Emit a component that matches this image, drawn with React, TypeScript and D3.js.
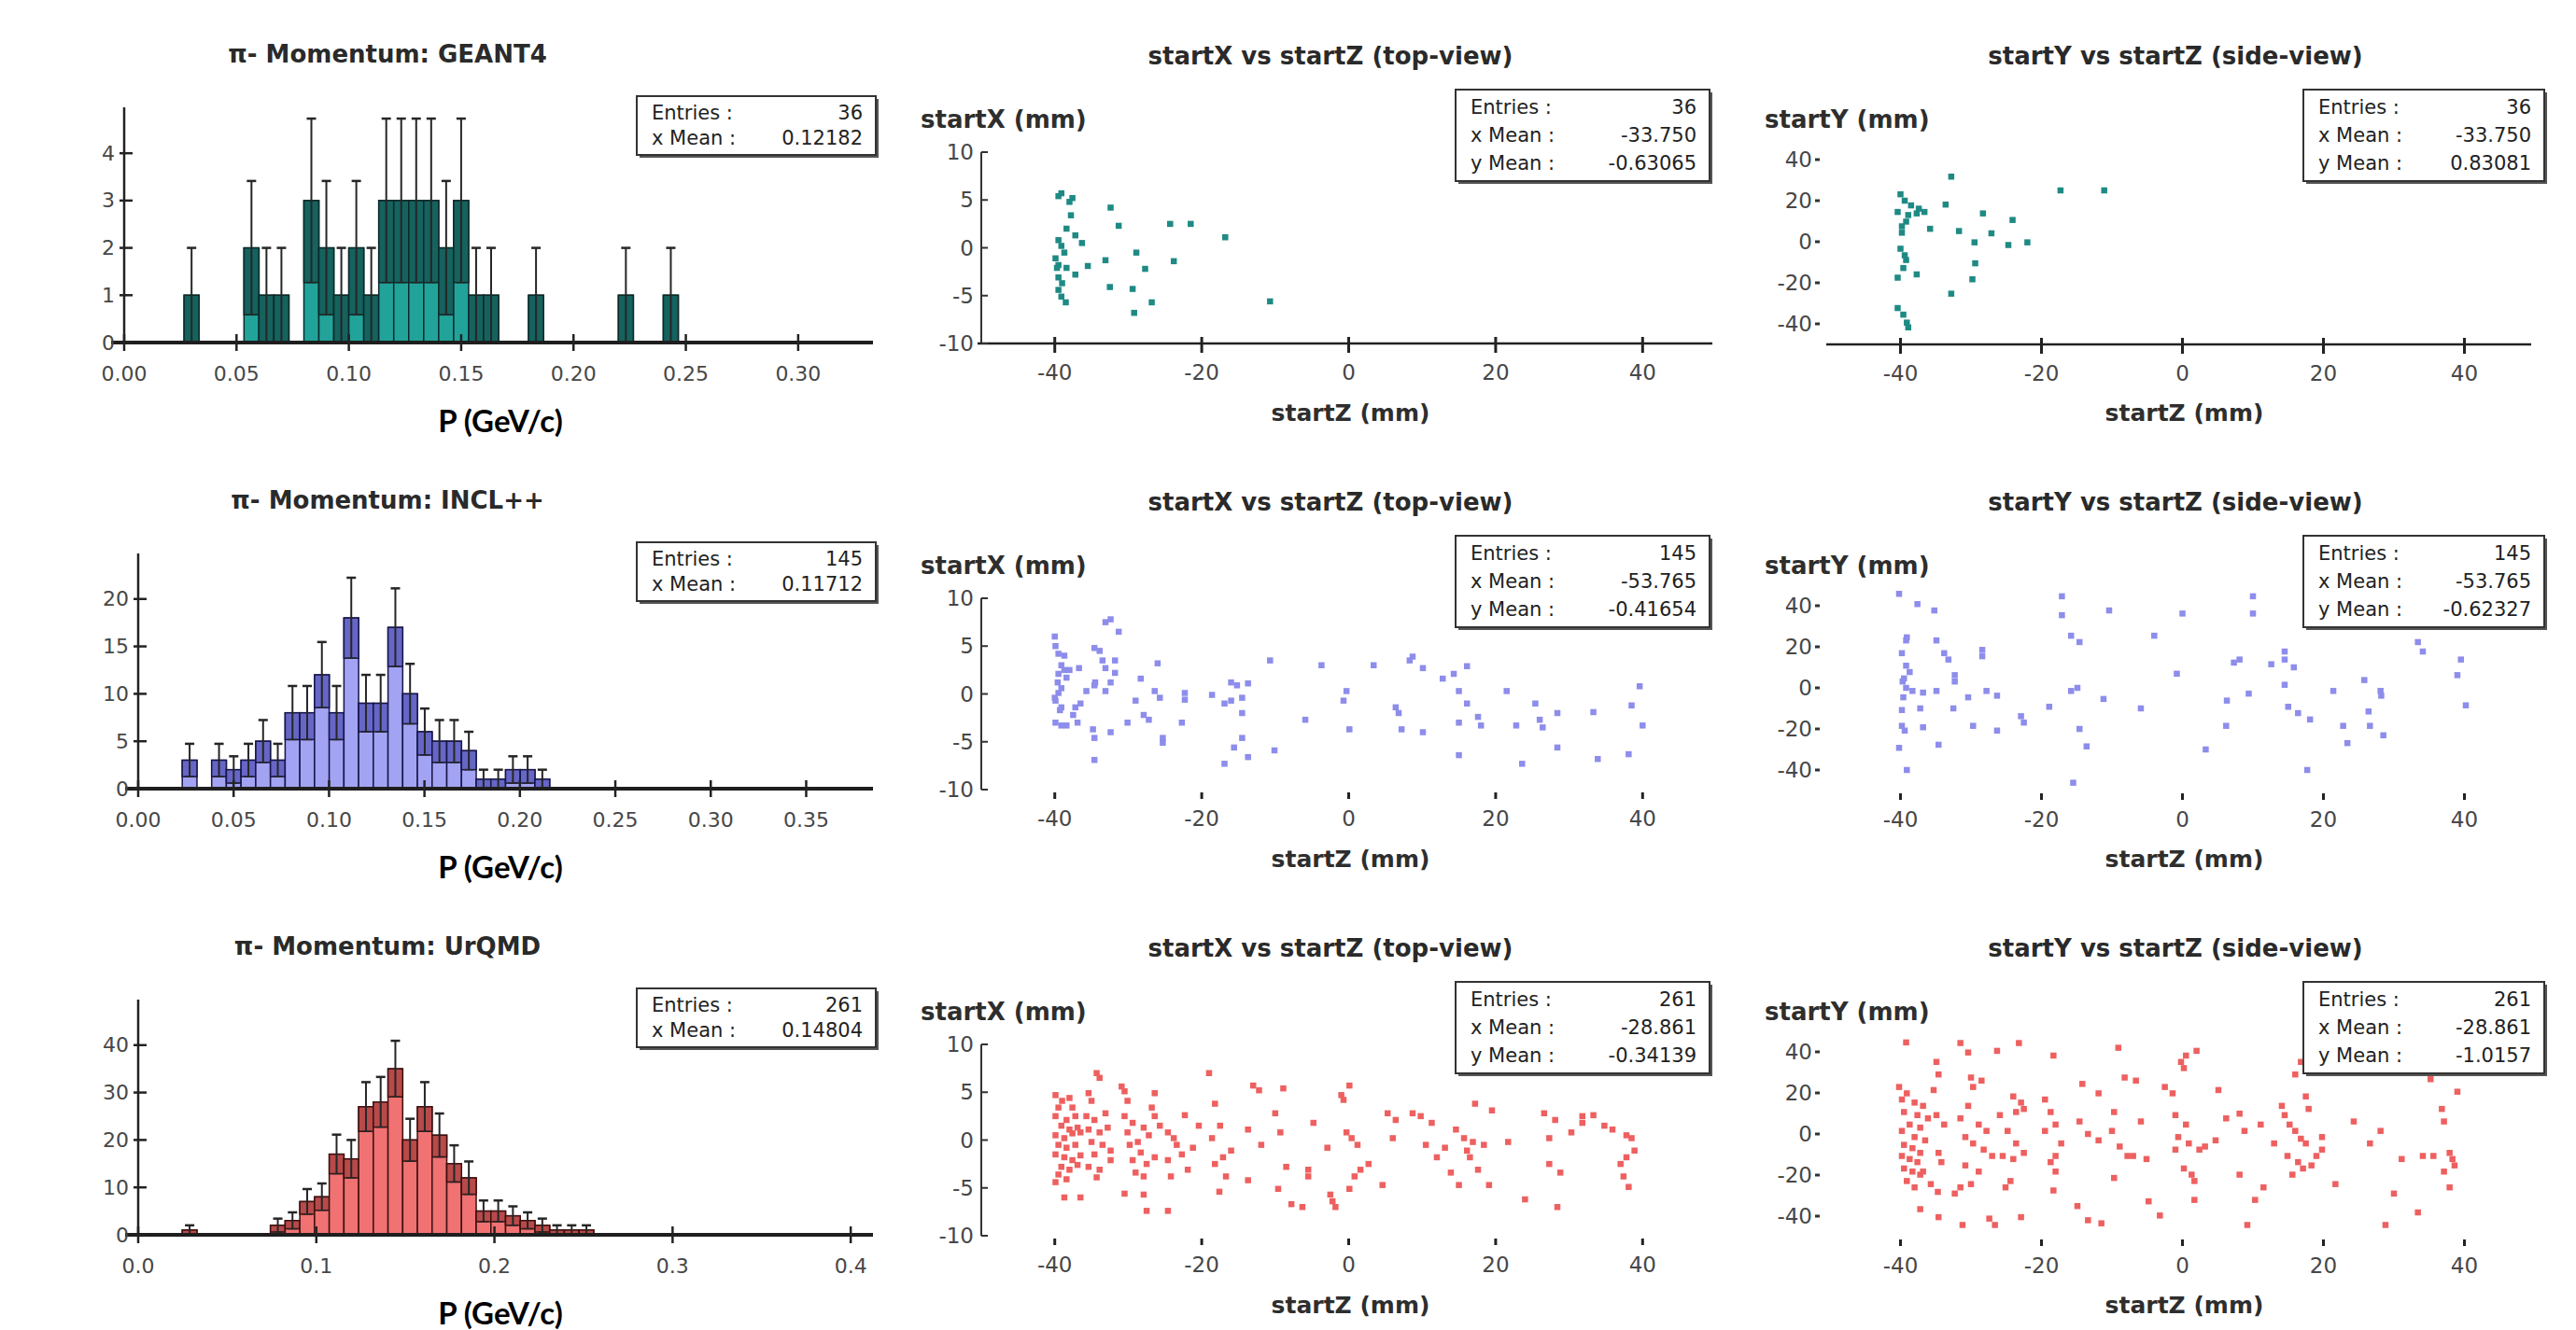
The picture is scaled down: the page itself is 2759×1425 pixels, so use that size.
import React from 'react'
import * as d3 from 'd3'

const W = 2759
const H = 1425
const ROW_DY = [0, 478, 956]
const SANS = '"DejaVu Sans", Verdana, sans-serif'

// ---- momentum histograms (50 bins over the axis range) ----
const histTitles = ['π- Momentum: GEANT4', 'π- Momentum: INCL++', 'π- Momentum: UrQMD']
const histEntries = ['36', '145', '261']
const histMeans = ['0.12182', '0.11712', '0.14804']
const histXMax = [0.3333, 0.385, 0.4125]
const histYMax = [4.97, 24.8, 49.6]
const histXTicks = [
  [0, 0.05, 0.1, 0.15, 0.2, 0.25, 0.3],
  [0, 0.05, 0.1, 0.15, 0.2, 0.25, 0.3, 0.35],
  [0, 0.1, 0.2, 0.3, 0.4],
]
const histXDigits = [2, 2, 1]
const histYTicks = [
  [0, 1, 2, 3, 4],
  [0, 5, 10, 15, 20],
  [0, 10, 20, 30, 40],
]
// [bin index, count]
const geantBins = [
  [4, 1], [8, 2], [9, 1], [10, 1], [12, 3], [13, 2], [14, 1], [15, 2], [16, 1], [17, 3],
  [18, 3], [19, 3], [20, 3], [21, 2], [22, 3], [23, 1], [24, 1], [27, 1], [33, 1], [36, 1],
]
const inclBins = [
  [3, 3], [5, 3], [6, 2], [7, 3], [8, 5], [9, 3], [10, 8], [11, 8], [12, 12], [13, 8],
  [14, 18], [15, 9], [16, 9], [17, 17], [18, 10], [19, 6], [20, 5], [21, 5], [22, 4],
  [23, 1], [24, 1], [25, 2], [26, 2], [27, 1],
]
const urqmdBins = [
  [3, 1], [9, 2], [10, 3], [11, 7], [12, 8], [13, 17], [14, 16], [15, 27], [16, 28],
  [17, 35], [18, 20], [19, 27], [20, 21], [21, 15], [22, 12], [23, 5], [24, 5], [25, 4],
  [26, 3], [27, 2], [28, 1], [29, 1], [30, 1],
]
const histBins = [geantBins, inclBins, urqmdBins]

// ---- start position scatters: [startZ, startX] and [startZ, startY] in mm ----
const g4Top = [
  [-39.1, 5.7], [-39.5, 5.4], [-37.6, 5.2], [-38.0, 4.8], [-37.8, 3.4], [-32.4, 4.2], [-31.3, 2.3],
  [-24.3, 2.5], [-21.5, 2.5], [-16.8, 1.1], [-38.4, 2.0], [-37.2, 1.3], [-36.3, 0.5], [-39.5, 0.8],
  [-39.1, 0.2], [-38.7, -0.5], [-39.9, -1.1], [-39.5, -1.8], [-39.7, -2.1], [-35.5, -1.9],
  [-37.2, -2.8], [-33.1, -1.3], [-28.9, -0.5], [-27.7, -2.2], [-32.5, -4.1], [-29.4, -4.3],
  [-39.0, -3.7], [-39.5, -4.4], [-39.1, -5.1], [-38.5, -5.7], [-26.8, -5.7], [-29.2, -6.8],
  [-10.7, -5.6], [-23.8, -1.4], [-39.5, -3.1], [-38.4, -2.1],
]
const g4Side = [
  [-32.8, 31.7], [-17.3, 25], [-11.1, 25], [-40, 23.1], [-39.4, 20], [-33.6, 18.1], [-38.5, 17.7],
  [-37.4, 16.1], [-36.6, 14.5], [-37.7, 13.8], [-40.4, 14.5], [-28.3, 13.8], [-24.1, 10.6],
  [-39.2, 9.8], [-39.8, 7.5], [-35.8, 6.3], [-31.7, 5.2], [-27.1, 4.1], [-29.5, -0.3], [-24.7, -1.6],
  [-22.0, -0.3], [-40.0, -3.4], [-39.2, -8.9], [-29.4, -10.5], [-39.6, -12.8], [-37.7, -15.9],
  [-40.4, -17.5], [-29.8, -18.3], [-32.8, -25.3], [-40.4, -32.3], [-39.6, -35.5], [-39.1, -39.4],
  [-38.9, -41.7], [-39.4, -6.6], [-38.9, 13], [-39.8, 4.4],
]
const inclTop = [
  [-40, 6.0], [-39.9, 5.0], [-39.5, 4.2], [-39.1, 3.0], [-38.7, 2.5], [-39.5, 2.1], [-38.0, 2.5],
  [-36.7, 2.7], [-38.4, 1.7], [-39.1, 0.6], [-39.5, 0.1], [-39.9, -0.7], [-39.1, -1.4], [-37.2, -1.4],
  [-36.5, -1.0], [-39.9, -3.0], [-39.1, -3.3], [-38.4, -3.3], [-36.9, -3.0], [-34.6, 4.8],
  [-33.9, 4.5], [-33.1, 7.5], [-32.4, 7.8], [-33.5, 3.5], [-33.1, 2.7], [-31.8, 3.5], [-31.8, 2.2],
  [-34.5, 1.2], [-33.1, 0.3], [-32.4, 1.2], [-34.6, 0.9], [-34.8, -3.7], [-34.6, -4.6], [-34.6, -6.9],
  [-32.4, -4.0], [-30.1, -3.0], [-29.0, -0.7], [-28.3, 1.6], [-27.9, -2.2], [-27.2, -2.7],
  [-26.4, 0.3], [-26.0, 3.2], [-25.7, -0.4], [-25.3, -4.6], [-25.3, -5.1], [-22.3, 0.1],
  [-22.3, -0.6], [-22.7, -3.0], [-18.6, -0.1], [-16.9, -1.0], [-16.0, -0.7], [-16.0, 1.2],
  [-15.2, 0.9], [-14.5, -0.4], [-13.7, 1.1], [-14.5, -2.0], [-14.5, -4.6], [-15.6, -5.6],
  [-16.9, -7.3], [-13.7, -6.6], [-10.1, -5.9], [-10.7, 3.5], [-5.9, -2.7], [-3.7, 3.0],
  [-0.3, 0.3], [-0.7, -0.7], [0.1, -3.7], [3.4, 3.0], [6.4, -1.4], [6.8, -2.0], [7.2, -3.7],
  [8.7, 3.9], [8.3, 3.5], [10.1, 2.7], [10.1, -4.0], [12.8, 1.6], [14.3, 2.1], [15.0, 0.3],
  [15.0, -3.0], [16.1, 2.9], [16.1, -1.0], [15.0, -6.4], [17.6, -2.4], [18.0, -3.3], [21.5, 0.3],
  [22.8, -3.3], [23.6, -7.3], [25.4, -1.0], [26.0, -2.7], [26.4, -3.5], [28.4, -2.0], [28.4, -5.6],
  [33.3, -1.9], [33.9, -6.8], [38.1, -6.3], [38.5, -1.2], [39.6, 0.8], [40.0, -3.3], [-39.3, -1.7],
  [-39.6, 1.2], [-38.7, 4.0], [-40, -0.4], [-37.5, -2.2], [-35.7, 0.3], [-31.3, 6.5],
]
const inclSide = [
  [-40.2, 45.8], [-37.6, 40.8], [-35.2, 37.7], [-39.1, 24.6], [-39.2, 23.1], [-34.9, 23.1],
  [-33.8, 16.9], [-33.2, 13.8], [-28.4, 18.5], [-28.4, 15.4], [-39.2, 10.8], [-38.7, 7.7],
  [-39.5, 4.6], [-39.2, 0], [-38.3, -1.5], [-36.8, -2.3], [-34.9, -1.5], [-32.3, 6.2], [-32.3, 3.1],
  [-30.4, -4.6], [-27.8, -1.5], [-26.3, -3.8], [-37.2, -10.0], [-39.8, -10.8], [-32.5, -10.0],
  [-39.8, -18.5], [-39.4, -20.8], [-36.8, -19.2], [-34.6, -27.7], [-29.7, -18.5], [-26.3, -20.8],
  [-22.9, -13.8], [-22.5, -16.9], [-40.2, -29.2], [-39.1, -40.0], [-18.9, -9.2], [-17.1, 44.6],
  [-17.1, 35.4], [-15.8, 25.4], [-14.6, 22.3], [-15.8, -1.5], [-14.9, 0], [-14.6, -20.0],
  [-13.6, -28.5], [-15.5, -46.2], [-10.4, 37.7], [-11.2, -5.4], [-5.9, -10.0], [-4.0, 25.4],
  [0, 36.2], [-0.8, 6.9], [3.3, -30.0], [6.2, -18.5], [6.3, -6.2], [7.3, 12.3], [8.1, 13.8],
  [9.4, -2.8], [10.0, 44.6], [10.0, 36.2], [12.6, 11.5], [14.5, 17.7], [14.5, 13.8], [14.5, 1.5],
  [15.8, 10.0], [15.0, -9.2], [16.4, -12.3], [18.1, -15.4], [17.7, -40.0], [21.4, -1.5],
  [22.8, -18.5], [23.4, -26.9], [25.8, 3.8], [26.4, -11.5], [26.6, -18.5], [28.2, -3.8],
  [28.5, -23.1], [33.4, 22.3], [34.1, 17.7], [38.6, 30.8], [39.5, 13.8], [39.0, 6.2], [40.2, -8.5],
  [28.1, -1.5], [-39.8, 16.9], [-39.7, 3.1], [-39.6, -4.6],
]
const urqmdTop = [
  [-39.9, 4.7], [-39.0, 4.1], [-38.0, 4.4], [-39.5, 3.4], [-37.6, 3.4], [-39.9, 2.5], [-38.4, 2.1],
  [-37.2, 2.5], [-39.1, 1.5], [-38.0, 1.1], [-36.9, 1.3], [-39.9, 0.5], [-38.7, 0.2], [-37.6, 0.7],
  [-36.5, 0.8], [-39.5, -0.5], [-38.4, -0.8], [-37.2, -0.5], [-39.9, -1.5], [-38.7, -1.8],
  [-37.6, -2.1], [-36.5, -1.6], [-39.1, -2.8], [-38.0, -3.1], [-36.9, -2.6], [-39.5, -3.6],
  [-38.4, -4.1], [-39.9, -4.4], [-38.7, -6.0], [-36.5, -6.0], [-35.4, 4.9], [-35.0, 4.1],
  [-34.3, 7.0], [-33.9, 6.5], [-35.7, 2.5], [-34.6, 2.1], [-33.1, 2.8], [-35.4, 1.1], [-33.9, 0.8],
  [-32.8, 1.3], [-35.0, -0.2], [-33.5, -0.5], [-34.6, -1.5], [-32.4, -1.1], [-35.4, -2.8],
  [-33.9, -3.1], [-34.3, -3.9], [-32.4, -2.1], [-30.9, 5.6], [-30.5, 5.1], [-30.1, 4.1],
  [-30.5, 2.5], [-29.4, 1.8], [-30.1, 0.8], [-27.9, 1.3], [-28.7, -0.2], [-27.2, 0.5], [-29.8, -0.5],
  [-28.3, -1.3], [-29.4, -2.1], [-27.5, -2.5], [-26.4, -1.8], [-29.0, -3.4], [-27.9, -3.8],
  [-30.5, -5.6], [-27.9, -5.7], [-27.5, -7.4], [-26.4, 4.9], [-26.8, 3.4], [-26.4, 2.5],
  [-24.6, -7.4], [-25.7, 1.5], [-24.6, 0.8], [-23.8, 0.2], [-23.4, -0.5], [-22.7, -1.5],
  [-24.6, -2.1], [-22.3, 2.6], [-21.9, -3.1], [-24.2, -3.8], [-21.2, -0.8], [-20.4, 1.5],
  [-19.0, 7.0], [-18.2, 3.8], [-18.6, 0.2], [-17.5, 1.5], [-17.1, -1.8], [-18.2, -2.5],
  [-16.7, -3.8], [-16.0, -1.1], [-17.6, -5.4], [-13.7, 1.1], [-13.0, 5.7], [-12.2, 5.2],
  [-11.9, -0.5], [-13.7, -4.2], [-10.0, 2.8], [-9.3, 0.8], [-8.9, 5.4], [-8.5, -2.8], [-9.6, -5.1],
  [-7.8, -6.7], [-6.3, -7.0], [-5.5, -3.1], [-4.8, 1.8], [-5.5, -3.8], [-2.9, -0.8], [-2.5, -5.7],
  [-2.2, -6.4], [-1.8, -7.0], [-1.0, 4.7], [-0.7, 4.2], [-0.3, 0.8], [0.4, 0.2], [0.1, 5.7],
  [1.2, -0.5], [0.8, -3.8], [1.6, -3.1], [0.1, -5.1], [2.7, -2.5], [4.6, -4.7], [5.3, 2.8],
  [6.0, 0.2], [6.4, 2.1], [8.7, 2.8], [9.8, 2.5], [10.5, -0.5], [11.3, 1.8], [12.0, -1.8],
  [13.1, -0.8], [13.9, -3.4], [14.6, 1.1], [15.0, -4.7], [15.7, 0.2], [16.1, -1.1], [16.5, -1.8],
  [16.9, -0.2], [17.2, 3.8], [17.6, -3.1], [18.4, -0.5], [19.1, -4.7], [19.5, 3.1], [21.7, -0.2],
  [24.0, -6.2], [26.6, 2.8], [27.3, -2.5], [28.1, 2.1], [28.4, -7.0], [28.8, -3.4], [27.3, 0.2],
  [30.3, 0.8], [31.8, 1.8], [33.3, 2.6], [34.8, 1.5], [35.9, 1.1], [37.8, 0.5], [38.5, 0.2],
  [38.9, -1.1], [37.8, -1.8], [37.0, -2.5], [37.4, -3.8], [38.1, -4.9], [31.8, 2.5],
]
const urqmdSide = [
  [-39.2, 44.6], [-40.2, 22.9], [-39.1, 19.8], [-39.8, 16.8], [-38.0, 15.3], [-36.8, 13.7],
  [-39.5, 10.7], [-37.6, 9.2], [-36.1, 7.6], [-38.7, 4.6], [-37.2, 3.1], [-39.8, 1.5], [-38.0, -1.5],
  [-36.5, -3.1], [-39.5, -5.3], [-38.3, -6.9], [-37.2, -9.2], [-39.8, -10.7], [-38.7, -12.2],
  [-37.6, -13.7], [-39.5, -16.8], [-38.3, -18.3], [-37.2, -19.8], [-39.1, -22.9], [-38.0, -26.0],
  [-34.9, 35.1], [-34.6, 29.0], [-35.3, 21.4], [-34.9, 9.2], [-33.8, 4.6], [-34.6, -9.2],
  [-34.2, -13.7], [-36.8, -18.3], [-37.2, -36.6], [-34.6, -40.5], [-34.7, -28.2], [-35.7, -24.4],
  [-31.5, 44.3], [-30.4, 39.7], [-30.0, 27.5], [-29.7, 22.9], [-28.5, 26.0], [-30.4, 13.7],
  [-31.5, 7.6], [-28.9, 4.6], [-27.8, 1.5], [-30.8, -1.5], [-29.7, -4.6], [-28.2, -7.6],
  [-27.0, -10.7], [-30.8, -15.3], [-28.9, -18.3], [-31.5, -26.0], [-30.0, -24.4], [-32.3, -29.0],
  [-31.2, -44.3], [-27.4, -41.2], [-26.6, -44.3], [-26.3, 40.5], [-23.2, 44.3], [-24.0, 18.3],
  [-22.9, 15.3], [-23.6, 10.7], [-22.5, 12.2], [-25.9, 9.2], [-24.8, 1.5], [-23.6, -4.6],
  [-25.5, -10.7], [-24.0, -12.2], [-22.5, -9.2], [-24.4, -22.9], [-25.1, -26.0], [-22.9, -40.5],
  [-18.3, 38.2], [-19.5, 16.8], [-18.7, 10.7], [-18.0, 4.6], [-19.5, 1.5], [-17.2, -4.6],
  [-18.0, -10.7], [-18.7, -13.7], [-18.0, -18.3], [-18.3, -27.5], [-14.9, -35.1], [-13.4, -42.0],
  [-11.5, -43.5], [-14.6, 6.1], [-13.4, 0], [-11.9, -3.1], [-14.2, 24.4], [-11.9, 19.8],
  [-9.1, 42.0], [-8.2, 27.5], [-9.7, 10.7], [-8.9, -6.1], [-7.8, -10.7], [-9.7, -21.4], [-7.0, -10.7],
  [-5.1, -12.2], [-5.9, 6.1], [-4.8, -32.8], [-3.2, -39.7], [-6.6, 26.0], [-10.0, 1.5], [-2.5, 22.9],
  [-1.4, 19.8], [-0.2, 35.1], [0.2, 32.1], [0.5, 38.2], [2.0, 40.5], [-1.0, 9.2], [0.5, 4.6],
  [-0.6, -1.5], [0.9, -4.6], [-1.0, -7.6], [0.2, -16.8], [1.3, -19.8], [1.7, -22.9], [2.4, -7.6],
  [3.2, -6.1], [1.7, -32.1], [4.7, -3.1], [5.1, 21.4], [6.2, 7.6], [8.1, 9.9], [8.1, -19.8],
  [8.8, 1.5], [9.2, -44.3], [10.3, -32.1], [11.5, -26.0], [11.1, 4.6], [13.0, -4.6], [14.1, 13.7],
  [14.5, 9.2], [15.2, 4.6], [16.0, 1.5], [16.8, -2.3], [17.5, -4.6], [14.9, -10.7], [16.4, -13.7],
  [17.1, -16.8], [18.3, -15.3], [19.0, -10.7], [17.5, 18.3], [17.9, 12.2], [19.8, -1.5],
  [19.8, -7.6], [15.6, -19.8], [16.0, 29.0], [16.8, 35.1], [21.7, 30.5], [21.7, -24.4], [24.3, 6.1],
  [26.6, -4.6], [28.1, 1.5], [26.6, 30.5], [28.5, 30.5], [28.8, -44.3], [30.0, -29.0], [31.1, -12.2],
  [33.4, -38.2], [34.1, -10.7], [35.6, -10.7], [35.2, 26.7], [36.8, 12.2], [37.1, 6.1], [37.9, -9.2],
  [38.6, -15.3], [37.9, -26.0], [39.0, 20.6], [37.1, -18.3], [38.3, -12.2],
]
const topPoints = [g4Top, inclTop, urqmdTop]
const sidePoints = [g4Side, inclSide, urqmdSide]

const scatterEntries = ['36', '145', '261']
const scatterXMeans = ['-33.750', '-53.765', '-28.861']
const topYMeans = ['-0.63065', '-0.41654', '-0.34139']
const sideYMeans = ['0.83081', '-0.62327', '-1.0157']

const palette = [
  { light: '#22a39a', dark: '#15625e', line: '#0b2a29', dot: '#1f8a84' },
  { light: '#a3a3f3', dark: '#6666c6', line: '#16164a', dot: '#8d8deb' },
  { light: '#f07272', dark: '#b84a4a', line: '#3d1010', dot: '#ee6060' },
]

const TICK_TEXT = '#474747'

function StatsBox({ x, y, w, h, rows }) {
  const lh = (h - 8) / rows.length
  return (
    <g>
      <rect x={x + 3} y={y + 3} width={w} height={h} fill="#555" />
      <rect x={x} y={y} width={w} height={h} fill="#fff" stroke="#333" strokeWidth={2} />
      {rows.map(([k, v], i) => (
        <g key={k} fontFamily={SANS} fontSize={21} fill="#222">
          <text x={x + 16} y={y + 4 + lh * (i + 0.5)} dominantBaseline="central">{k}</text>
          <text x={x + w - 14} y={y + 4 + lh * (i + 0.5)} dominantBaseline="central" textAnchor="end">{v}</text>
        </g>
      ))}
    </g>
  )
}

function Histogram({ r }) {
  const dy = ROW_DY[r]
  const x0 = r === 0 ? 133 : 148
  const axisY = 367 + dy
  const x = d3.scaleLinear().domain([0, histXMax[r]]).range([x0, 935])
  const y = d3.scaleLinear().domain([0, histYMax[r]]).range([axisY, 115 + dy])
  const bw = histXMax[r] / 50
  const c = palette[r]
  const bins = histBins[r]
  const fmt = d3.format(`.${histXDigits[r]}f`)
  return (
    <g>
      <text x={415} y={58 + dy} textAnchor="middle" dominantBaseline="central" fontFamily={SANS}
        fontWeight="bold" fontSize={26} fill="#2a2a2a">{histTitles[r]}</text>
      {bins.map(([k, n]) => {
        const s = Math.sqrt(n)
        const xl = x(k * bw)
        const xr = x((k + 1) * bw)
        return (
          <g key={k}>
            <rect x={xl} y={y(n)} width={xr - xl} height={axisY - y(n)} fill={c.light} stroke={c.line} strokeWidth={1.5} />
            <rect x={xl} y={y(n)} width={xr - xl} height={y(Math.max(0, n - s)) - y(n)} fill={c.dark} stroke={c.line} strokeWidth={1.5} />
          </g>
        )
      })}
      {bins.map(([k, n]) => {
        const s = Math.sqrt(n)
        const xm = x((k + 0.5) * bw)
        const lo = y(Math.max(0, n - s))
        const hi = y(n + s)
        return (
          <g key={k} stroke="#262626">
            <line x1={xm} x2={xm} y1={lo} y2={hi} strokeWidth={2} />
            <line x1={xm - 5} x2={xm + 5} y1={hi} y2={hi} strokeWidth={2.5} />
            <line x1={xm - 5} x2={xm + 5} y1={lo} y2={lo} strokeWidth={1.5} />
          </g>
        )
      })}
      <line x1={x0} x2={x0} y1={115 + dy} y2={axisY} stroke="#222" strokeWidth={2.5} />
      <line x1={x0 - 14} x2={935} y1={axisY} y2={axisY} stroke="#1e1e1e" strokeWidth={4} />
      {histXTicks[r].map((t) => (
        <g key={t}>
          <line x1={x(t)} x2={x(t)} y1={axisY - 9} y2={axisY + 9} stroke="#222" strokeWidth={2.5} />
          <text x={x(t)} y={axisY + 33} textAnchor="middle" dominantBaseline="central" fontFamily={SANS}
            fontSize={22} fill={TICK_TEXT}>{fmt(t)}</text>
        </g>
      ))}
      {histYTicks[r].map((t) => (
        <g key={t}>
          <line x1={x0 - 5} x2={x0 + 9} y1={y(t)} y2={y(t)} stroke="#222" strokeWidth={2.5} />
          <text x={x0 - 10} y={y(t)} textAnchor="end" dominantBaseline="central" fontFamily={SANS}
            fontSize={22} fill={TICK_TEXT}>{t}</text>
        </g>
      ))}
      <StatsBox x={682} y={103 + dy} w={256} h={63}
        rows={[['Entries :', histEntries[r]], ['x Mean :', histMeans[r]]]} />
      <text x={536} y={450 + dy} textAnchor="middle" dominantBaseline="central"
        fontFamily='Lato, "Open Sans", sans-serif' fontWeight="bold" fontSize={33} fill="#000">P (GeV/c)</text>
    </g>
  )
}

const MID = {
  x0: 1051, x1: 1838, yLo: 368, yHi: 163, yDomain: [-10, 10], yTicks: [-10, -5, 0, 5, 10],
  titleX: 1425, yLabelX: 986, box: [1559, 96, 272, 98],
  title: 'startX vs startZ (top-view)', yLabel: 'startX (mm)', yAxisLine: true,
}
const SIDE = {
  x0: 1960, x1: 2715, yLo: 369, yHi: 149, yDomain: [-50, 50], yTicks: [-40, -20, 0, 20, 40],
  titleX: 2330, yLabelX: 1890, box: [2467, 96, 258, 98],
  title: 'startY vs startZ (side-view)', yLabel: 'startY (mm)', yAxisLine: false,
}

function Scatter({ r, side }) {
  const g = side ? SIDE : MID
  const dy = ROW_DY[r]
  const x = d3.scaleLinear().domain([-50, 50]).range([g.x0, g.x1])
  const y = d3.scaleLinear().domain(g.yDomain).range([g.yLo + dy, g.yHi + dy])
  const pts = side ? sidePoints[r] : topPoints[r]
  const base = y(g.yDomain[0])
  const c = palette[r]
  const [bx, by, bw, bh] = g.box
  return (
    <g>
      <text x={g.titleX} y={60 + dy} textAnchor="middle" dominantBaseline="central" fontFamily={SANS}
        fontWeight="bold" fontSize={26} fill="#2a2a2a">{g.title}</text>
      <text x={g.yLabelX} y={128 + dy} dominantBaseline="central" fontFamily={SANS}
        fontWeight="bold" fontSize={26} fill="#2e2e2e">{g.yLabel}</text>
      {pts.map(([pz, pv], i) => (
        <rect key={i} x={x(pz) - 3.25} y={y(pv) - 3.25} width={6.5} height={6.5} fill={c.dot} />
      ))}
      {g.yAxisLine && (
        <line x1={g.x0} x2={g.x0} y1={y(g.yDomain[1])} y2={base} stroke="#333" strokeWidth={2} />
      )}
      {r === 0 && <line x1={g.x0 - 4} x2={g.x1 - 4} y1={base} y2={base} stroke="#222" strokeWidth={2.5} />}
      {g.yTicks.map((t) => (
        <g key={t}>
          {g.yAxisLine ? (
            <line x1={g.x0} x2={g.x0 + 7} y1={y(t)} y2={y(t)} stroke="#333" strokeWidth={2} />
          ) : (
            <line x1={g.x0 - 16} x2={g.x0 - 11} y1={y(t)} y2={y(t)} stroke="#333" strokeWidth={3} />
          )}
          <text x={g.yAxisLine ? g.x0 - 8 : g.x0 - 19} y={y(t)} textAnchor="end" dominantBaseline="central"
            fontFamily={SANS} fontSize={23} fill={TICK_TEXT}>{t}</text>
        </g>
      ))}
      {[-40, -20, 0, 20, 40].map((t) => (
        <g key={t}>
          <line x1={x(t)} x2={x(t)} y1={r === 0 ? base - 7 : base + 3} y2={base + 10} stroke="#222" strokeWidth={3} />
          <text x={x(t)} y={base + 31} textAnchor="middle" dominantBaseline="central" fontFamily={SANS}
            fontSize={23} fill={TICK_TEXT}>{t}</text>
        </g>
      ))}
      <text x={(g.x0 + g.x1) / 2 + 2} y={442 + dy} textAnchor="middle" dominantBaseline="central"
        fontFamily={SANS} fontWeight="bold" fontSize={25} fill="#2e2e2e">startZ (mm)</text>
      <StatsBox x={bx} y={by + dy} w={bw} h={bh}
        rows={[
          ['Entries :', scatterEntries[r]],
          ['x Mean :', scatterXMeans[r]],
          ['y Mean :', side ? sideYMeans[r] : topYMeans[r]],
        ]} />
    </g>
  )
}

export default function App() {
  return (
    <svg width={W} height={H} viewBox={`0 0 ${W} ${H}`}
      style={{ position: 'absolute', left: 0, top: 0, background: '#fff' }}>
      <rect width={W} height={H} fill="#fff" />
      {[0, 1, 2].map((r) => (
        <g key={r}>
          <Histogram r={r} />
          <Scatter r={r} side={false} />
          <Scatter r={r} side={true} />
        </g>
      ))}
    </svg>
  )
}
